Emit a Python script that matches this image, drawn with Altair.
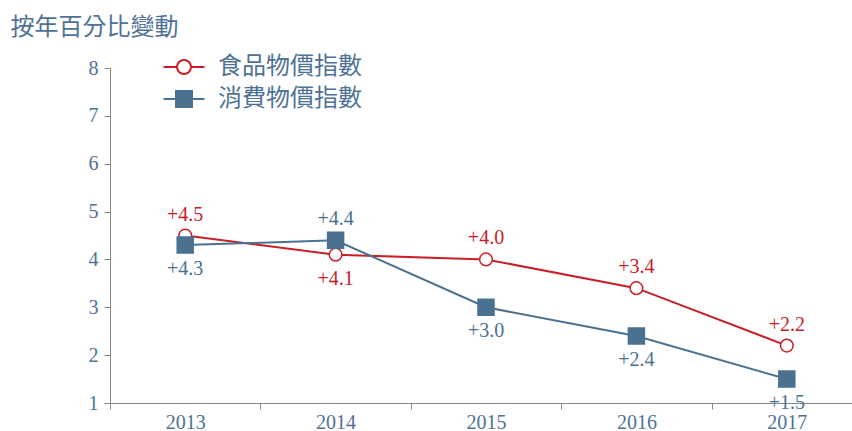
import altair as alt
import pandas as pd

years = ["2013", "2014", "2015", "2016", "2017"]
food = [4.5, 4.1, 4.0, 3.4, 2.2]
cpi = [4.3, 4.4, 3.0, 2.4, 1.5]
food_pos = ["above", "below", "above", "above", "above"]
cpi_pos = ["below", "above", "below", "below", "below"]
series = ["食品物價指數", "消費物價指數"]

RED = "#c8202b"
BLUE = "#4b7191"
TXT = "#4e7296"
FONT = "Liberation Serif, Noto Sans CJK TC"

rows = []
for y, v, p in zip(years, food, food_pos):
    rows.append({"year": y, "series": series[0], "value": v, "label": f"+{v:.1f}", "pos": p})
for y, v, p in zip(years, cpi, cpi_pos):
    rows.append({"year": y, "series": series[1], "value": v, "label": f"+{v:.1f}", "pos": p})
df = pd.DataFrame(rows)

x = alt.X("year:N", title=None,
          scale=alt.Scale(range=[0, 752], paddingInner=0, paddingOuter=0),
          axis=alt.Axis(labelAngle=0, tickBand="extent", tickSize=6, labelPadding=3,
                        domainColor="#888888", tickColor="#888888",
                        labelColor=TXT, labelFontSize=20, labelFont=FONT))
y = alt.Y("value:Q", scale=alt.Scale(domain=[1, 8], nice=False, zero=False),
          axis=alt.Axis(values=[1, 2, 3, 4, 5, 6, 7, 8], grid=False, tickSize=6, labelPadding=6,
                        domainColor="#888888", tickColor="#888888",
                        labelColor=TXT, labelFontSize=20, labelFont=FONT,
                        title="按年百分比變動", titleAngle=0, titleAlign="left",
                        titleBaseline="middle", titleX=-100, titleY=-41,
                        titleFont=FONT, titleFontSize=24, titleFontWeight="normal",
                        titleColor=TXT))

stroke_scale = alt.Scale(domain=series, range=[RED, BLUE])
fill_scale = alt.Scale(domain=series, range=["white", BLUE])
shape_scale = alt.Scale(domain=series, range=["circle", "square"])

circ_path = ("M -2.05 0 L -0.7 0 M 0.7 0 L 2.05 0 "
             "M -0.7 0 A 0.7 0.7 0 1 1 0.7 0 A 0.7 0.7 0 1 1 -0.7 0 Z")
sq_path = ("M -2.05 0 L -0.8 0 M 0.8 0 L 2.05 0 "
           "M -0.8 -0.8 L 0.8 -0.8 L 0.8 0.8 L -0.8 0.8 Z")

legend = alt.Legend(
    title=None, orient="none", legendX=62, legendY=-13, padding=0,
    symbolSize=400, symbolStrokeWidth=2,
    symbolType={"expr": f"datum.value === '{series[0]}' ? '{circ_path}' : '{sq_path}'"},
    symbolFillColor={"expr": f"datum.value === '{series[0]}' ? 'white' : '{BLUE}'"},
    labelFont=FONT, labelFontSize=24, labelColor=TXT, labelOffset=22,
    rowPadding=8, labelLimit=400,
)

base = alt.Chart(df)

lines = base.mark_line(strokeWidth=2).encode(
    x=x, y=y,
    stroke=alt.Stroke("series:N", scale=stroke_scale, legend=legend),
    order=alt.Order("year:N"),
)

points = base.mark_point(filled=False, strokeWidth=1.5, opacity=1).encode(
    x=x, y=y,
    stroke=alt.Stroke("series:N", scale=stroke_scale, legend=None),
    fill=alt.Fill("series:N", scale=fill_scale, legend=None),
    shape=alt.Shape("series:N", scale=shape_scale, legend=None),
    size=alt.Size("series:N", scale=alt.Scale(domain=series, range=[160, 256]), legend=None),
)

text_above = base.transform_filter(alt.datum.pos == "above").mark_text(
    dy=-21, fontSize=20, font=FONT, baseline="middle"
).encode(
    x=x, y=y, text="label:N",
    color=alt.Color("series:N", scale=stroke_scale, legend=None),
)
text_below = base.transform_filter(alt.datum.pos == "below").mark_text(
    dy=24, fontSize=20, font=FONT, baseline="middle"
).encode(
    x=x, y=y, text="label:N",
    color=alt.Color("series:N", scale=stroke_scale, legend=None),
)

chart = alt.layer(lines, points, text_above, text_below).resolve_legend(
    stroke="independent"
).properties(
    width=742, height=335,
    autosize=alt.AutoSizeParams(type="none"),
    padding={"left": 110, "top": 68, "right": 0, "bottom": 28},
    background="white",
).configure_view(strokeWidth=0, strokeOpacity=0)

chart.save("out.html", embed_options={"renderer": "svg", "actions": False})
